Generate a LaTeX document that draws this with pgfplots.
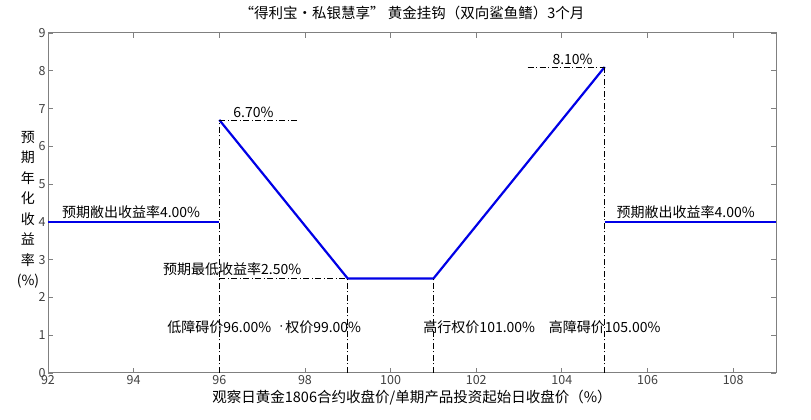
\documentclass[border=0pt]{standalone}
\usepackage{fontspec}
\setmainfont{Noto Sans CJK SC}
\usepackage{pgfplots}
\pgfplotsset{compat=1.18}
\definecolor{axgray}{RGB}{128,128,128}
\definecolor{tickgray}{RGB}{64,64,64}
\definecolor{lineblue}{RGB}{0,0,230}
\begin{document}
\begin{tikzpicture}[x=1pt,y=1pt]
\path[use as bounding box] (-48,-47) rectangle (763,373);
\begin{axis}[
 at={(0,0)}, anchor=south west,
 scale only axis, width=728pt, height=340pt,
 xmin=92, xmax=109, ymin=0, ymax=9,
 xtick={92,94,...,108}, ytick={0,1,...,9},
 tick align=inside, major tick length=5pt,
 axis line style={axgray, line width=1pt},
 tick style={axgray, line width=0.8pt},
 ticklabel style={font=\fontsize{12.5}{12.5}\selectfont, text=tickgray},
 xticklabel style={yshift=1pt},
 yticklabel style={xshift=1pt},
 /pgf/number format/assume math mode=true,
 clip=false,
 title={“得利宝·私银慧享” 黄金挂钩（双向鲨鱼鳍）3个月},
 title style={font=\fontsize{14.5}{14.5}\selectfont, at={(0.5,1)}, anchor=south, yshift=4pt},
 xlabel={观察日黄金1806合约收盘价/单期产品投资起始日收盘价（\%）},
 xlabel style={font=\fontsize{14.5}{14.5}\selectfont, yshift=2pt},
]
\addplot[lineblue, line width=2.2pt] coordinates {(92,4) (96,4)};
\addplot[lineblue, line width=2.2pt] coordinates {(96,6.7) (99,2.5) (101,2.5) (105,8.1)};
\addplot[lineblue, line width=2.2pt] coordinates {(105,4) (109,4)};
\addplot[black, line width=0.6pt, dash pattern=on 6pt off 2.5pt on 1pt off 2.5pt] coordinates {(96,0) (96,6.7)};
\addplot[black, line width=0.6pt, dash pattern=on 6pt off 2.5pt on 1pt off 2.5pt] coordinates {(96,6.7) (97.85,6.7)};
\addplot[black, line width=0.6pt, dash pattern=on 6pt off 2.5pt on 1pt off 2.5pt] coordinates {(96,2.5) (99,2.5)};
\addplot[black, line width=0.6pt, dash pattern=on 6pt off 2.5pt on 1pt off 2.5pt] coordinates {(99,0) (99,2.5)};
\addplot[black, line width=0.6pt, dash pattern=on 6pt off 2.5pt on 1pt off 2.5pt] coordinates {(101,0) (101,2.5)};
\addplot[black, line width=0.6pt, dash pattern=on 6pt off 2.5pt on 1pt off 2.5pt] coordinates {(105,0) (105,8.1)};
\addplot[black, line width=0.6pt, dash pattern=on 6pt off 2.5pt on 1pt off 2.5pt] coordinates {(103.2,8.1) (105,8.1)};
\begin{scope}[every node/.style={font=\fontsize{14}{14}\selectfont, inner sep=1pt}]
\node[anchor=south west] at (axis cs:96.3,6.72) {6.70\%};
\node[anchor=south] at (axis cs:104.25,8.12) {8.10\%};
\node[anchor=south west] at (axis cs:92.3,4.05) {预期敝出收益率4.00\%};
\node[anchor=south west] at (axis cs:105.25,4.05) {预期敝出收益率4.00\%};
\node[anchor=south] at (axis cs:96.3,2.55) {预期最低收益率2.50\%};
\node at (axis cs:96,1.22) {低障碍价96.00\%};
\node[anchor=east] at (axis cs:99.34,1.22) {{\fontsize{8}{8}\selectfont\raisebox{3pt}{·}}权价99.00\%};
\node[anchor=west] at (axis cs:100.74,1.22) {高行权价101.00\%};
\node at (axis cs:105,1.22) {高障碍价105.00\%};
\node[align=center, font=\fontsize{14}{20.5}\selectfont] at (axis description cs:-0.0275,0.48) {预\\期\\年\\化\\收\\益\\率\\(\%)};
\end{scope}
\end{axis}
\end{tikzpicture}
\end{document}
